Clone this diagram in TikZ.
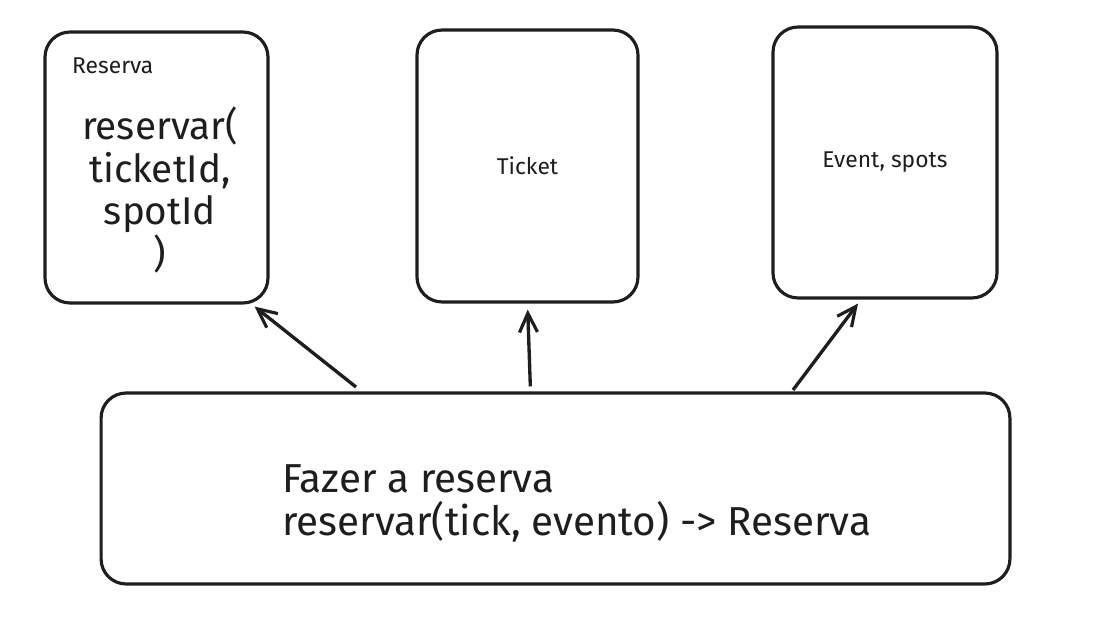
\documentclass[tikz,border=0pt]{standalone}
\usepackage{fontspec}
\setmainfont{Fira Sans}
\usepackage{tikz}
\usetikzlibrary{
  arrows.meta,
  positioning,
  calc
}
\definecolor{InkDark}{HTML}{1E1E1E}
\tikzset{
  % Sketch box: rounded, fixed size
  card/.style={
    rectangle, rounded corners=0.5cm,
    draw=InkDark, line width=1.8pt, fill=white,
    minimum width=#1, align=center,
    font=\fontsize{13}{15}\selectfont, text=InkDark
  },
  % Big hand text
  hand/.style={font=\fontsize{#1}{24.4}\selectfont, text=InkDark},
  % Small caption
  cap lbl/.style={font=\fontsize{13}{15}\selectfont, text=InkDark},
  % Open arrow
  arr/.style={
    -{Straight Barb[length=3.8mm,width=3.6mm,line width=1.8pt]},
    line width=1.9pt, color=InkDark
  }
}

\begin{document}
\begin{tikzpicture}[x=0.02cm,y=-0.02cm]
  \useasboundingbox (0,0) rectangle (1116,625);

  % ---- TOP ROW: three cards ----
  \node[card=4.46cm, minimum height=5.42cm] (reserva) at (156.5,167.5) {};
  \node[card=4.42cm, minimum height=5.44cm] (ticket)  at (527.5,166)   {Ticket};
  \node[card=4.48cm, minimum height=5.42cm] (event)   at (885,162.5)   {Event, spots};

  \node[cap lbl, anchor=west] (reservaLbl) at (66,66) {Reserva};
  \node[hand=22, align=center] (reservaCall) at (160,190)
    {reservar(\\ticketId,\\spotId\\)};

  % ---- BOTTOM: use case ----
  \node[card=18.18cm, minimum height=3.82cm] (fazer) at (555.5,488.5) {};
  \node[hand=23, align=left, anchor=west] (fazerTxt) at (276,503)
    {Fazer a reserva\\reservar(tick, evento) -> Reserva};

  % ---- ARROWS ----
  \coordinate (r0) at (356,387);
  \coordinate (e0) at (793,390);
  \draw[arr] (r0) -- ([xshift=-0.3cm,yshift=-0.04cm]reserva.south east);
  \draw[arr, shorten <=0.1cm, shorten >=0.12cm] ([xshift=0.06cm]fazer.north -| ticket.south) -- (ticket.south);
  \draw[arr] (e0) -- ([xshift=-0.54cm,yshift=-0.08cm]event.south);

\end{tikzpicture}
\end{document}
